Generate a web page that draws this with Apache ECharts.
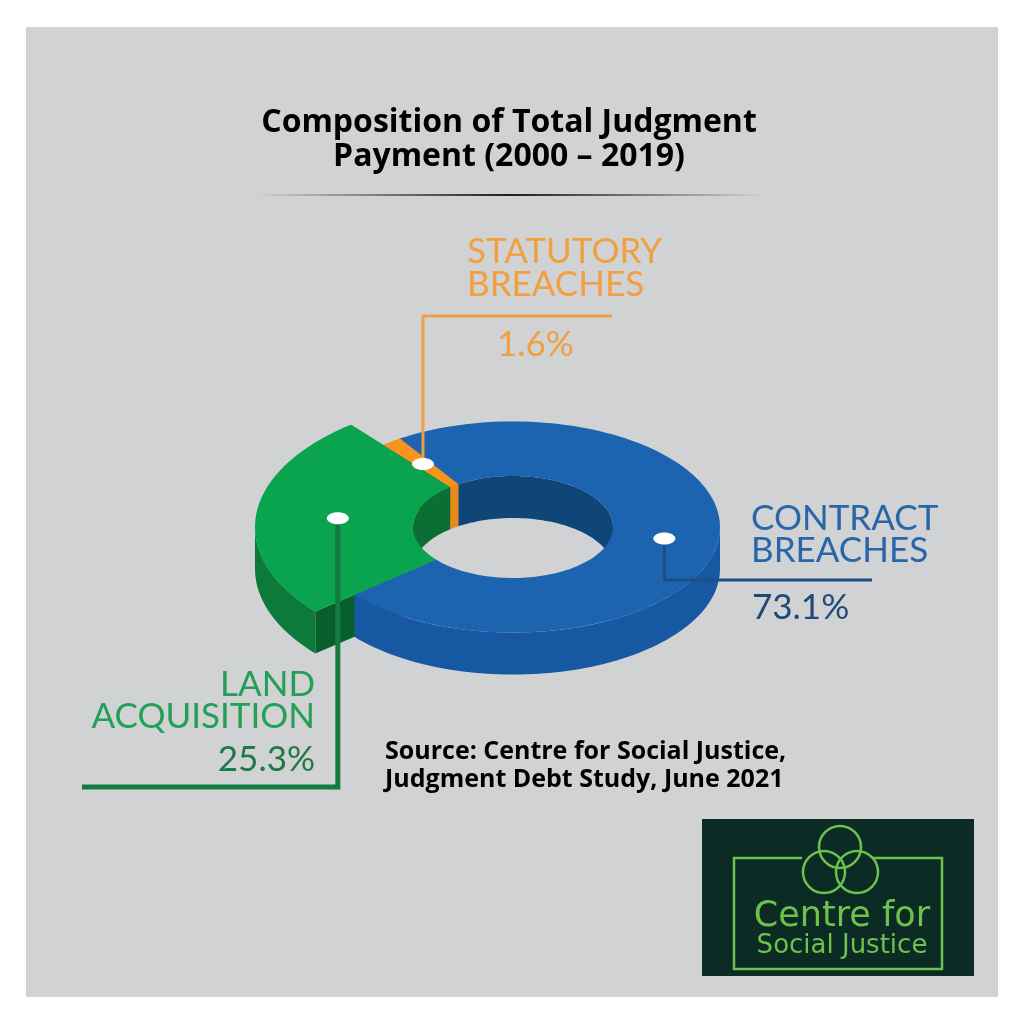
<!DOCTYPE html>
<html>
<head>
<meta charset="utf-8">
<script src="https://cdn.jsdelivr.net/npm/echarts@6/dist/echarts.min.js"></script>
<style>html,body{margin:0;padding:0;background:#fff}#main{width:1024px;height:1024px}</style>
</head>
<body>
<div id="main"></div>
<script>
// data (counterclockwise from START)
var categories = ['CONTRACT BREACHES', 'STATUTORY BREACHES', 'LAND ACQUISITION'];
var shares = [73.1, 1.6, 25.3];
var shareLabels = ['73.1%', '1.6%', '25.3%'];

// 3d ring geometry
var CX = 513, CY = 527, K = 0.51, H = 42, RI = 100;
var START = 220;
var outerR = [207, 207, 258];
var dotR = [153, 153, 176];
var topColor = ['#1c64b0', '#f6941e', '#0aa44e'];
var outerWallColor = ['#1658a2', '#d98014', '#0b7a3a'];
var innerWallColor = ['#0f4677', '#e88a1a', '#0b6e35'];
var faceColor = ['#12457a', '#c06f10', '#075f2c'];
var leader = [
  { y: 580, x: 872, color: '#1d4f86', w: 3 },
  { y: 316, x: 612, color: '#f0a041', w: 3 },
  { y: 787, x: 82, color: '#157a3f', w: 5 }
];

var total = shares.reduce(function (s, v) { return s + v; }, 0);
var acc = 0;
var sliceAngles = shares.map(function (v) {
  var a0 = START + acc / total * 360;
  acc += v;
  return [a0, START + acc / total * 360];
});

function pt(r, deg, dy) {
  var a = deg * Math.PI / 180;
  return [CX + r * Math.cos(a), CY - K * r * Math.sin(a) + (dy || 0)];
}
function arc(r, a0, a1, dy) {
  var n = Math.max(2, Math.ceil(Math.abs(a1 - a0) / 2)), pts = [];
  for (var j = 0; j <= n; j++) pts.push(pt(r, a0 + (a1 - a0) * j / n, dy));
  return pts;
}
// parts of [a0,a1] inside [lo,hi] (+ k*360)
function clip(a0, a1, lo, hi) {
  var out = [];
  for (var k = -1; k <= 2; k++) {
    var s = Math.max(a0, lo + 360 * k), e = Math.min(a1, hi + 360 * k);
    if (e > s) out.push([s, e]);
  }
  return out;
}

function renderSlice(params, api) {
  var i = params.dataIndex;
  var a0 = sliceAngles[i][0], a1 = sliceAngles[i][1], ro = outerR[i];
  var kids = [];
  [a0, a1].forEach(function (a) {
    kids.push({ type: 'polygon', z2: 0, shape: { points: [pt(RI, a), pt(ro, a), pt(ro, a, H), pt(RI, a, H)] }, style: { fill: faceColor[i] } });
  });
  clip(a0, a1, 0, 180).forEach(function (p) {
    kids.push({ type: 'polygon', z2: 1, shape: { points: arc(RI, p[0], p[1], 0).concat(arc(RI, p[1], p[0], H)) }, style: { fill: innerWallColor[i] } });
  });
  clip(a0, a1, 180, 360).forEach(function (p) {
    kids.push({ type: 'polygon', z2: 2, shape: { points: arc(ro, p[0], p[1], 0).concat(arc(ro, p[1], p[0], H)) }, style: { fill: outerWallColor[i] } });
  });
  kids.push({ type: 'polygon', z2: 3, shape: { points: arc(ro, a0, a1, 0).concat(arc(RI, a1, a0, 0)) }, style: { fill: topColor[i] } });

  var d = pt(dotR[i], (a0 + a1) / 2);
  var L = leader[i];
  kids.push({ type: 'polyline', z2: 4, shape: { points: [d, [d[0], L.y], [L.x, L.y]] }, style: { stroke: L.color, lineWidth: L.w, fill: null } });
  kids.push({ type: 'ellipse', z2: 5, shape: { cx: d[0], cy: d[1], rx: 11, ry: 6 }, style: { fill: '#ffffff' } });
  return { type: 'group', children: kids };
}

function label(text, x, y, color, align) {
  return { type: 'text', x: x, y: y, style: { text: text, fill: color, font: '35px Lato', textAlign: align || 'left', textVerticalAlign: 'middle' } };
}

var myChart = echarts.init(document.getElementById('main'));
myChart.setOption({
  backgroundColor: '#ffffff',
  animation: false,
  graphic: [
    { type: 'rect', z: -10, shape: { x: 26, y: 27, width: 972, height: 970 }, style: { fill: '#d1d2d4' } },
    { type: 'text', x: 509, y: 123, style: { text: 'Composition of Total Judgment', fill: '#000', font: 'bold 32px "Open Sans"', textAlign: 'center', textVerticalAlign: 'middle' } },
    { type: 'text', x: 509, y: 157, style: { text: 'Payment (2000 \u2013 2019)', fill: '#000', font: 'bold 32px "Open Sans"', textAlign: 'center', textVerticalAlign: 'middle' } },
    { type: 'rect', shape: { x: 255, y: 194, width: 510, height: 2 }, style: { fill: { type: 'linear', x: 0, y: 0, x2: 1, y2: 0, colorStops: [
      { offset: 0, color: 'rgba(30,30,30,0)' }, { offset: 0.5, color: 'rgba(30,30,30,1)' }, { offset: 1, color: 'rgba(30,30,30,0)' }] } } },

    label('STATUTORY', 467, 252, '#f0a040'),
    label('BREACHES', 467, 285, '#f0a040'),
    label(shareLabels[1], 497, 345, '#f0a040'),
    label('CONTRACT', 751, 519, '#2866a8'),
    label('BREACHES', 751, 551, '#2866a8'),
    label(shareLabels[0], 752, 608, '#1e4a78'),
    label('LAND', 315, 685, '#22a057', 'right'),
    label('ACQUISITION', 315, 717, '#22a057', 'right'),
    label(shareLabels[2], 315, 760, '#1d7a44', 'right'),

    { type: 'text', x: 385, y: 752, style: { text: 'Source: Centre for Social Justice,', fill: '#000', font: 'bold 25px "Open Sans"', textVerticalAlign: 'middle' } },
    { type: 'text', x: 385, y: 780, style: { text: 'Judgment Debt Study, June 2021', fill: '#000', font: 'bold 25px "Open Sans"', textVerticalAlign: 'middle' } },

    /*logo*/
    { type: 'rect', shape: { x: 702, y: 819, width: 272, height: 157 }, style: { fill: '#0c2b24' } },
    { type: 'polyline', shape: { points: [[802, 858], [734, 858], [734, 969], [942, 969], [942, 858], [873, 858]] }, style: { stroke: '#6cc24a', lineWidth: 2.5, fill: null } },
    { type: 'circle', shape: { cx: 840, cy: 847, r: 21 }, style: { stroke: '#6cc24a', lineWidth: 2.5, fill: null } },
    { type: 'circle', shape: { cx: 824, cy: 872, r: 21 }, style: { stroke: '#6cc24a', lineWidth: 2.5, fill: null } },
    { type: 'circle', shape: { cx: 857, cy: 872, r: 21 }, style: { stroke: '#6cc24a', lineWidth: 2.5, fill: null } },
    { type: 'text', x: 842, y: 917, style: { text: 'Centre for', fill: '#6cc24a', font: '35px "DejaVu Sans"', textAlign: 'center', textVerticalAlign: 'middle' } },
    { type: 'text', x: 842, y: 946, style: { text: 'Social Justice', fill: '#6cc24a', font: '26px "DejaVu Sans"', textAlign: 'center', textVerticalAlign: 'middle' } }
  ],
  series: [{
    type: 'custom',
    coordinateSystem: 'none',
    silent: true,
    data: shares.map(function (v, i) { return { name: categories[i], value: [v] }; }),
    renderItem: renderSlice
  }]
});
</script>
</body>
</html>
